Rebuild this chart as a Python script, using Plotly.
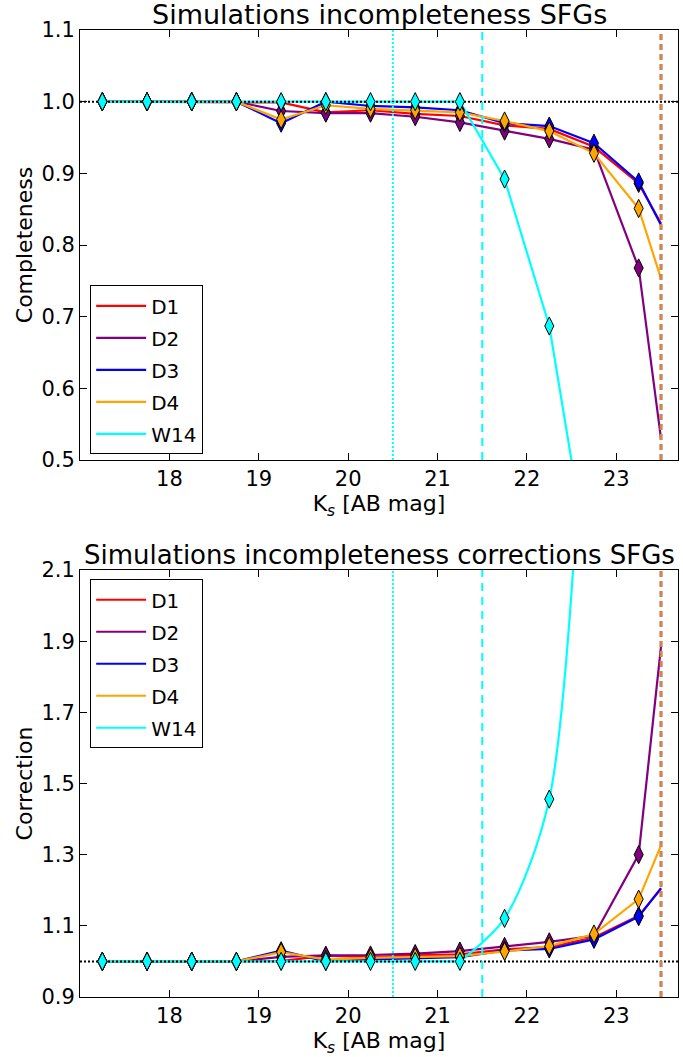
import plotly.graph_objects as go

# ---------------- data ----------------
bins = [17.25, 17.75, 18.25, 18.75, 19.25, 19.75, 20.25, 20.75, 21.25, 21.75, 22.25, 22.75, 23.25]
x_end = 23.5

series_names = ["D1", "D2", "D3", "D4"]
series_colors = ["#ff0000", "#800080", "#0000ff", "#ffa500"]

# completeness at bin centres
comp_D1 = [1.0, 1.0, 1.0, 1.0, 0.999, 0.985, 0.988, 0.983, 0.980, 0.967, 0.962, 0.937, 0.886]
comp_D2 = [1.0, 1.0, 1.0, 1.0, 0.987, 0.984, 0.984, 0.979, 0.971, 0.959, 0.948, 0.933, 0.768]
comp_D3 = [1.0, 1.0, 1.0, 1.0, 0.970, 1.000, 0.994, 0.992, 0.988, 0.970, 0.966, 0.942, 0.888]
comp_D4 = [1.0, 1.0, 1.0, 1.0, 0.975, 0.995, 0.990, 0.988, 0.985, 0.973, 0.959, 0.928, 0.851]
comp_end = [0.830, 0.530, 0.828, 0.753]   # value of each line at x_end

w14_x = [17.25, 17.75, 18.25, 18.75, 19.25, 19.75, 20.25, 20.75, 21.25, 21.75, 22.25, 22.75]
w14_comp = [1.0, 1.0, 1.0, 1.0, 1.0, 1.0, 1.0, 1.0, 1.0, 0.892, 0.687, 0.31]

# correction at bin centres
corr_D1 = [1.0, 1.0, 1.0, 1.0, 1.001, 1.016, 1.012, 1.017, 1.020, 1.034, 1.040, 1.067, 1.128]
corr_D2 = [1.0, 1.0, 1.0, 1.0, 1.013, 1.017, 1.018, 1.022, 1.029, 1.042, 1.055, 1.072, 1.300]
corr_D3 = [1.0, 1.0, 1.0, 1.0, 1.030, 1.000, 1.006, 1.009, 1.012, 1.031, 1.035, 1.062, 1.126]
corr_D4 = [1.0, 1.0, 1.0, 1.0, 1.026, 1.005, 1.010, 1.012, 1.015, 1.028, 1.043, 1.077, 1.175]
corr_end = [1.204, 1.885, 1.206, 1.326]
w14_corr = [1.0, 1.0, 1.0, 1.0, 1.0, 1.0, 1.0, 1.0, 1.0, 1.121, 1.456, 3.2]

w14_name = "W14"
w14_color = "#00ffff"

vline_dotted = 20.5
vline_dashed = 21.5
vline_limit = 23.5

x_ticks = [18, 19, 20, 21, 22, 23]
y_ticks_top = [0.5, 0.6, 0.7, 0.8, 0.9, 1.0, 1.1]
y_ticks_bot = [0.9, 1.1, 1.3, 1.5, 1.7, 1.9, 2.1]

XRANGE = [17.0, 23.69]
YRANGE_TOP = [0.5, 1.1]
YRANGE_BOT = [0.9, 2.1]

comp_all = [comp_D1, comp_D2, comp_D3, comp_D4]
corr_all = [corr_D1, corr_D2, corr_D3, corr_D4]

# ---------------- figure ----------------
fig = go.Figure()
FONT = "DejaVu Sans"
LW = 2.2
TICK_FS = 21
TITLE_FS = 22
HEAD_FS = 27
HEAD2_FS = 26
LEG_FS = 20

def marker_style(color):
    return dict(symbol="diamond-tall", size=13, color=color,
                line=dict(color="black", width=1))

panels = [
    ("x", "y", comp_all, comp_end, w14_comp, YRANGE_TOP, "legend"),
    ("x2", "y2", corr_all, corr_end, w14_corr, YRANGE_BOT, "legend2"),
]

for xa, ya, vals_all, ends, w14_vals, yr, leg in panels:
    # lines
    for name, col, vals, ev in zip(series_names, series_colors, vals_all, ends):
        fig.add_trace(go.Scatter(x=bins + [x_end], y=vals + [ev], mode="lines",
                                 line=dict(color=col, width=LW), name=name,
                                 legendgroup=leg + name,
                                 xaxis=xa, yaxis=ya, legend=leg, showlegend=True))
    if ya == "y":
        fig.add_trace(go.Scatter(x=w14_x, y=w14_vals, mode="lines",
                                 line=dict(color=w14_color, width=LW), name=w14_name,
                                 legendgroup=leg + w14_name,
                                 xaxis=xa, yaxis=ya, legend=leg))
    else:
        fig.add_trace(go.Scatter(x=w14_x[:9], y=w14_vals[:9], mode="lines",
                                 line=dict(color=w14_color, width=LW), name=w14_name,
                                 legendgroup=leg + w14_name,
                                 xaxis=xa, yaxis=ya, legend=leg))
        fig.add_trace(go.Scatter(x=w14_x[8:], y=w14_vals[8:], mode="lines",
                                 line=dict(color=w14_color, width=LW, shape="spline", smoothing=0.8),
                                 name=w14_name, xaxis=xa, yaxis=ya, showlegend=False))
    # reference lines
    fig.add_trace(go.Scatter(x=XRANGE, y=[1.0, 1.0], mode="lines",
                             line=dict(color="black", width=2, dash="2px,2px"),
                             xaxis=xa, yaxis=ya, showlegend=False, hoverinfo="skip"))
    fig.add_trace(go.Scatter(x=[vline_dotted, vline_dotted], y=yr, mode="lines",
                             line=dict(color=w14_color, width=2, dash="2px,2px"),
                             xaxis=xa, yaxis=ya, showlegend=False, hoverinfo="skip"))
    fig.add_trace(go.Scatter(x=[vline_dashed, vline_dashed], y=yr, mode="lines",
                             line=dict(color=w14_color, width=2, dash="8px,6px"),
                             xaxis=xa, yaxis=ya, showlegend=False, hoverinfo="skip"))
    fig.add_trace(go.Scatter(x=[vline_limit, vline_limit], y=yr, mode="lines",
                             line=dict(color="#b0604a", width=3, dash="6px,4px"),
                             xaxis=xa, yaxis=ya, showlegend=False, hoverinfo="skip"))
    fig.add_trace(go.Scatter(x=[vline_limit, vline_limit], y=yr, mode="lines",
                             line=dict(color="#f0a040", width=1.2, dash="6px,4px"),
                             xaxis=xa, yaxis=ya, showlegend=False, hoverinfo="skip"))
    # markers
    for name, col, vals in zip(series_names, series_colors, vals_all):
        fig.add_trace(go.Scatter(x=bins, y=vals, mode="markers", marker=marker_style(col),
                                 xaxis=xa, yaxis=ya, showlegend=False, name=name))
    fig.add_trace(go.Scatter(x=w14_x[:11], y=w14_vals[:11], mode="markers",
                             marker=marker_style(w14_color),
                             xaxis=xa, yaxis=ya, showlegend=False, name=w14_name))

axis_common = dict(showline=True, linecolor="black", linewidth=1, mirror="ticks",
                   ticks="inside", ticklen=7, tickcolor="black", showgrid=False,
                   zeroline=False, automargin=False,
                   tickfont=dict(family=FONT, size=TICK_FS, color="black"))

TOP_DOM = [0.5553, 1.0]
BOT_DOM = [0.0, 0.4416]

xt = "K<sub><i>s</i></sub> [AB mag]"
legend_common = dict(xanchor="left", yanchor="top", bgcolor="white",
                     bordercolor="black", borderwidth=1, font=dict(family=FONT, size=LEG_FS),
                     traceorder="grouped", tracegroupgap=3, itemwidth=50)
fig.update_layout(
    width=683, height=1057,
    margin=dict(l=80, r=5, t=30, b=60),
    paper_bgcolor="white", plot_bgcolor="white",
    font=dict(family=FONT, color="black"),
    xaxis=dict(range=XRANGE, tickvals=x_ticks, anchor="y", domain=[0, 1],
               title=dict(text=xt, font=dict(family=FONT, size=TITLE_FS), standoff=2), **axis_common),
    yaxis=dict(range=YRANGE_TOP, tickvals=y_ticks_top, tickformat=".1f", anchor="x", domain=TOP_DOM,
               title=dict(text="Completeness", font=dict(family=FONT, size=TITLE_FS), standoff=2), **axis_common),
    xaxis2=dict(range=XRANGE, tickvals=x_ticks, anchor="y2", domain=[0, 1],
                title=dict(text=xt, font=dict(family=FONT, size=TITLE_FS), standoff=2), **axis_common),
    yaxis2=dict(range=YRANGE_BOT, tickvals=y_ticks_bot, tickformat=".1f", anchor="x2", domain=BOT_DOM,
                title=dict(text="Correction", font=dict(family=FONT, size=TITLE_FS), standoff=2), **axis_common),
    legend=dict(x=0.017, y=0.736, **legend_common),
    legend2=dict(x=0.017, y=0.432, **legend_common),
    annotations=[
        dict(text="Simulations incompleteness SFGs", xref="paper", yref="paper",
             x=0.5, y=1.0, xanchor="center", yanchor="bottom", showarrow=False,
             font=dict(family=FONT, size=HEAD_FS), yshift=-2),
        dict(text="Simulations incompleteness corrections SFGs", xref="paper", yref="paper",
             x=0.5, y=BOT_DOM[1], xanchor="center", yanchor="bottom", showarrow=False,
             font=dict(family=FONT, size=HEAD2_FS), yshift=-2),
    ],
    showlegend=True,
)

fig.write_html("out.html", config={"displayModeBar": False},
               post_script="document.body.style.margin='0';document.body.style.overflow='hidden';")
